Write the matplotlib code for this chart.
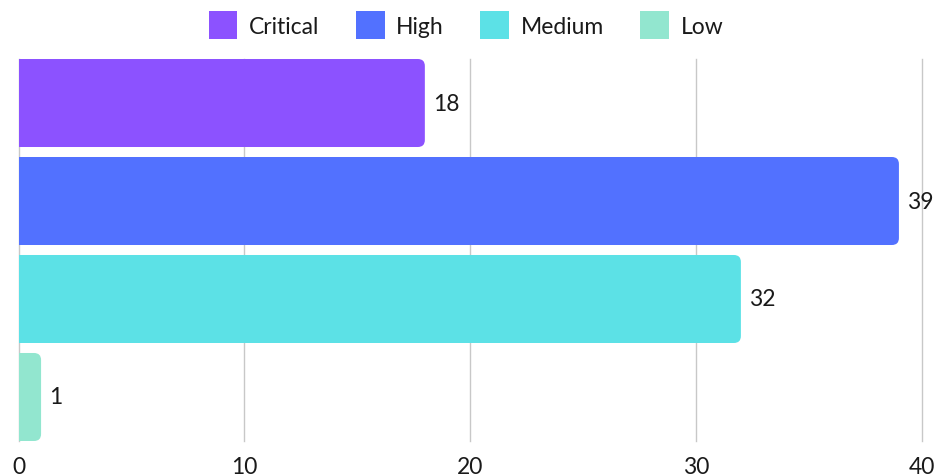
import matplotlib.pyplot as plt
from matplotlib.patches import FancyBboxPatch, Patch

# severity counts
categorias = ['Critical', 'High', 'Medium', 'Low']
valores = [18, 39, 32, 1]
cores = ['#8C52FF', '#5271FF', '#5CE1E6', '#92E6CF']

plt.rcParams['font.family'] = ['Lato', 'DejaVu Sans']

fig = plt.figure(figsize=(9.38, 4.77), dpi=100)
ax = fig.add_axes([18.5 / 938, 35 / 477, 903 / 938, 382 / 477])

altura = 0.898
px_x = 903 / 40          # pixels por unidade em x
px_y = 382 / (3 + altura)  # pixels por unidade em y
raio = 7 / px_x

for i, (v, c) in enumerate(zip(valores, cores)):
    # começa antes do zero para que só o lado direito fique arredondado
    barra = FancyBboxPatch((-2, i - altura / 2), v + 2, altura,
                           boxstyle=f'round,pad=0,rounding_size={raio}',
                           mutation_aspect=px_x / px_y,
                           facecolor=c, edgecolor='none', zorder=3)
    ax.add_patch(barra)
    ax.text(v + 8 / px_x, i, str(v), va='center', ha='left',
            fontsize=16.5, color='#1a1a1a', zorder=4)

ax.set_xlim(0, 40)
ax.set_ylim(3 + altura / 2, -altura / 2)
ax.set_xticks([0, 10, 20, 30, 40])
ax.set_yticks([])
ax.tick_params(axis='x', length=0, pad=11, labelsize=16.5, labelcolor='#1a1a1a')
ax.grid(axis='x', color='#c8c8c8', linewidth=1, zorder=0)
for gl in ax.get_xgridlines():
    gl.set_clip_on(False)
for s in ax.spines.values():
    s.set_visible(False)

handles = [Patch(facecolor=c, edgecolor='none') for c in cores]
fig.legend(handles, categorias, loc='center', bbox_to_anchor=(466 / 938, 1 - 26 / 477),
           ncol=4, frameon=False, fontsize=16.5, handlelength=1.25, handleheight=1.5,
           handletextpad=0.5, columnspacing=1.6, labelcolor='#1a1a1a')

fig.savefig('out.png', dpi=100)
